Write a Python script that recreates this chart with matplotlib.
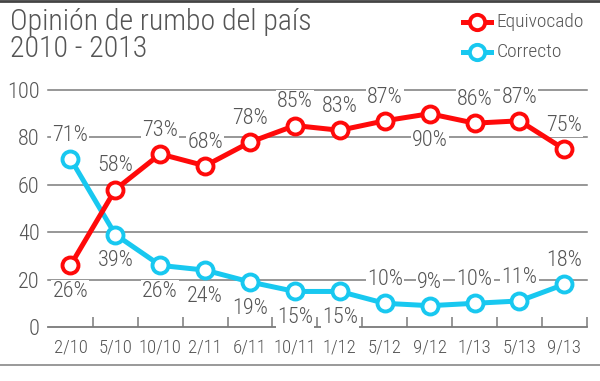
import matplotlib
matplotlib.use("Agg")
import matplotlib.pyplot as plt
from matplotlib.lines import Line2D

plt.rcParams['font.family'] = ['Roboto Condensed', 'Liberation Sans Narrow',
                               'Roboto', 'DejaVu Sans']
plt.rcParams['font.weight'] = 'light'

fechas = ["2/10", "5/10", "10/10", "2/11", "6/11", "10/11", "1/12",
          "5/12", "9/12", "1/13", "5/13", "9/13"]
equivocado = [26, 58, 73, 68, 78, 85, 83, 87, 90, 86, 87, 75]
correcto = [71, 39, 26, 24, 19, 15, 15, 10, 9, 10, 11, 18]

# where each value label goes (1 = above, -1 = below)
pos_equiv = [-1, 1, 1, 1, 1, 1, 1, 1, -1, 1, 1, 1]
pos_corr = [1, -1, -1, -1, -1, -1, -1, 1, 1, 1, 1, 1]

ROJO = "#ff0a0a"
CIAN = "#18c8f0"
GRIS = "#555555"
LINEA = "#7a7a7a"

fig = plt.figure(figsize=(6, 3.81), dpi=100)
ax = fig.add_axes([0.08, 0.1417, 0.898, 0.6221])

x = list(range(len(fechas)))
for v in [20, 40, 60, 80, 100]:
    ax.axhline(v, color=LINEA, lw=1.1, zorder=1, clip_on=False)
ax.axhline(0, color=LINEA, lw=1.3, zorder=1, clip_on=False)

estilo = dict(lw=3.6, marker="o", ms=11.5, mfc="white", mew=2.8,
              solid_capstyle="round", zorder=4, clip_on=False)
ax.plot(x, correcto, color=CIAN, **estilo)
ax.plot(x, equivocado, color=ROJO, **estilo)

for serie, pos in [(equivocado, pos_equiv), (correcto, pos_corr)]:
    for i, (v, p) in enumerate(zip(serie, pos)):
        dy = 17 if p > 0 else -19
        ax.annotate(f"{v}%", (i, v), xytext=(0, dy), textcoords="offset points",
                    ha="center", va="center", fontsize=16, color=GRIS,
                    zorder=3,
                    bbox=dict(boxstyle="square,pad=0.05", fc="white", ec="none"))

ax.set_xlim(-0.5, len(fechas) - 0.5)
ax.set_ylim(0, 100)
ax.set_xticks(x)
ax.set_xticklabels(fechas)
ax.set_xticks([i + 0.5 for i in range(len(fechas))], minor=True)
ax.tick_params(axis="x", which="major", length=0, pad=8, labelsize=13.5,
               labelcolor=GRIS)
ax.tick_params(axis="x", which="minor", direction="in", length=7, width=1.1,
               color=LINEA)
ax.set_yticks([0, 20, 40, 60, 80, 100])
ax.tick_params(axis="y", length=0, pad=6, labelsize=16, labelcolor=GRIS)
for s in ax.spines.values():
    s.set_visible(False)

fig.text(0.017, 0.978, "Opinión de rumbo del país\n2010 - 2013", ha="left",
         va="top", fontsize=21.5, color=GRIS, linespacing=0.92)

# legend
for yy, col, txt in [(0.942, ROJO, "Equivocado"), (0.863, CIAN, "Correcto")]:
    fig.add_artist(Line2D([0.772, 0.818], [yy, yy], color=col, lw=3.6,
                          transform=fig.transFigure))
    fig.add_artist(Line2D([0.795], [yy], marker="o", ms=11, mfc="white",
                          mew=2.8, color=col, transform=fig.transFigure))
    fig.text(0.828, yy, txt, ha="left", va="center", fontsize=14, color=GRIS)

fig.add_artist(Line2D([0, 1], [0.998, 0.998], color="#444444", lw=2,
                      transform=fig.transFigure))
fig.add_artist(Line2D([0, 1], [0.042, 0.042], color="#888888", lw=1.2,
                      transform=fig.transFigure))

fig.savefig("out.png", dpi=100)
